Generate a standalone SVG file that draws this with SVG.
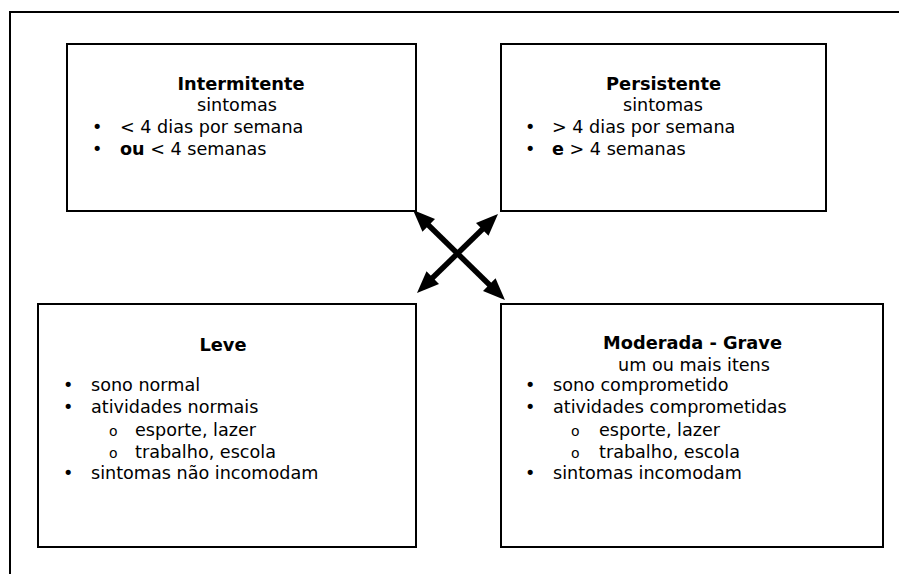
<svg xmlns="http://www.w3.org/2000/svg" width="899" height="574" viewBox="0 0 899 574">
<style>
text{font-family:"DejaVu Sans","Verdana",sans-serif;font-size:17.6px;fill:#000}
.t{font-weight:bold;text-anchor:middle;font-size:17.8px}
.c{text-anchor:middle}
.box{fill:#fff;stroke:#000;stroke-width:2}
.sub{font-size:14px}
.arr{stroke:#000;stroke-width:5.5;fill:none}
</style>
<defs>
<marker id="ah" viewBox="0 0 22 18" refX="11" refY="9" markerWidth="22" markerHeight="18" markerUnits="userSpaceOnUse" orient="auto-start-reverse">
<path d="M0,0 L22,9 L0,18 z" fill="#000"/>
</marker>
</defs>
<rect width="899" height="574" fill="#fff"/>
<path d="M10,574 L10,12 L899,12" fill="none" stroke="#000" stroke-width="2"/>
<g id="intermitente">
<rect class="box" x="67" y="44" width="349" height="167"/>
<text class="t" x="241" y="90">Intermitente</text>
<text class="c" x="237" y="111">sintomas</text>
<text x="92" y="133">•</text><text x="120" y="133">&lt; 4 dias por semana</text>
<text x="92" y="155">•</text><text x="120" y="155"><tspan font-weight="bold">ou</tspan> &lt; 4 semanas</text>
</g>
<g id="persistente">
<rect class="box" x="501" y="44" width="325" height="167"/>
<text class="t" x="663.5" y="90">Persistente</text>
<text class="c" x="663" y="111">sintomas</text>
<text x="525" y="133">•</text><text x="552" y="133">&gt; 4 dias por semana</text>
<text x="525" y="155">•</text><text x="552" y="155"><tspan font-weight="bold">e</tspan> &gt; 4 semanas</text>
</g>
<g id="leve">
<rect class="box" x="38" y="304" width="378" height="243"/>
<text class="t" x="223" y="351">Leve</text>
<text x="63" y="391">•</text><text x="91" y="391">sono normal</text>
<text x="63" y="413">•</text><text x="91" y="413">atividades normais</text>
<text class="sub" x="109" y="436">o</text><text x="135" y="436">esporte, lazer</text>
<text class="sub" x="109" y="458">o</text><text x="135" y="458">trabalho, escola</text>
<text x="63" y="479">•</text><text x="91" y="479">sintomas não incomodam</text>
</g>
<g id="moderada-grave">
<rect class="box" x="501" y="304" width="382" height="243"/>
<text class="t" x="692.5" y="349">Moderada - Grave</text>
<text class="c" x="694" y="371">um ou mais itens</text>
<text x="525" y="391">•</text><text x="553" y="391">sono comprometido</text>
<text x="525" y="413">•</text><text x="553" y="413">atividades comprometidas</text>
<text class="sub" x="571" y="436">o</text><text x="599" y="436">esporte, lazer</text>
<text class="sub" x="571" y="458">o</text><text x="599" y="458">trabalho, escola</text>
<text x="525" y="479">•</text><text x="553" y="479">sintomas incomodam</text>
</g>
<g id="connectors">
<line class="arr" x1="420.9" y1="217.7" x2="497.1" y2="292.3" marker-start="url(#ah)" marker-end="url(#ah)"/>
<line class="arr" x1="424.9" y1="285.3" x2="490.1" y2="221.7" marker-start="url(#ah)" marker-end="url(#ah)"/>
</g>
</svg>
